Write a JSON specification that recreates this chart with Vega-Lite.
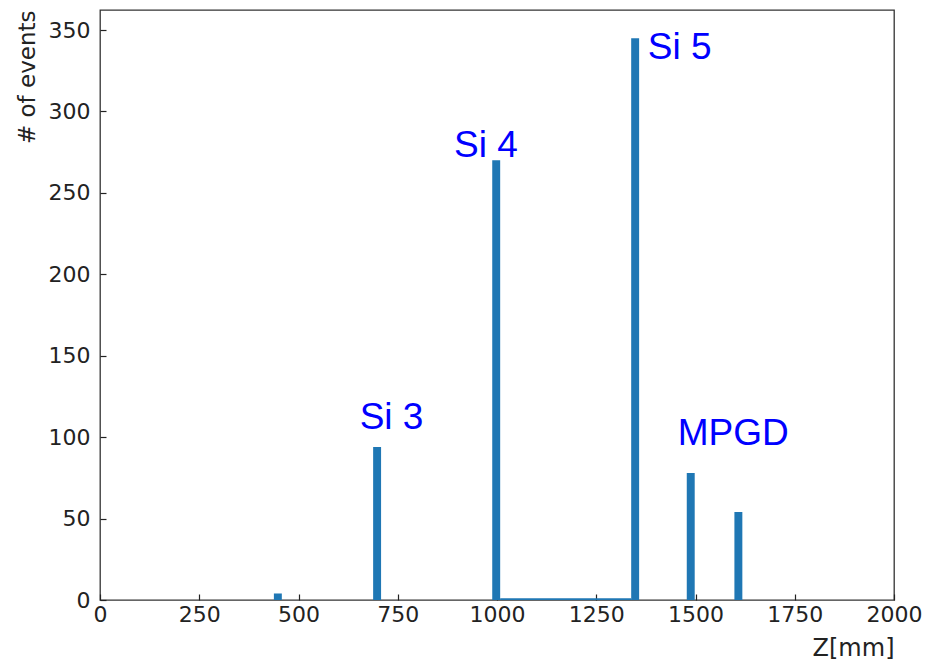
{
  "$schema": "https://vega.github.io/schema/vega-lite/v6.json",
  "width": 794,
  "height": 590,
  "autosize": {"type": "none"},
  "padding": {"left": 100, "top": 10, "right": 32, "bottom": 62},
  "background": "white",
  "datasets": {
    "bins": [
      {"z0": 438, "z1": 458, "events": 4},
      {"z0": 688, "z1": 708, "events": 94},
      {"z0": 988, "z1": 1008, "events": 270},
      {"z0": 1008, "z1": 1338, "events": 1},
      {"z0": 1338, "z1": 1358, "events": 345},
      {"z0": 1478, "z1": 1498, "events": 78},
      {"z0": 1598, "z1": 1618, "events": 54}
    ],
    "labels": [
      {"label": "Si 3", "z": 654, "events": 105},
      {"label": "Si 4", "z": 892, "events": 272},
      {"label": "Si 5", "z": 1380, "events": 332},
      {"label": "MPGD", "z": 1455, "events": 95}
    ]
  },
  "config": {
    "view": {"stroke": "#333333", "strokeWidth": 1.3},
    "axis": {
      "grid": false,
      "domain": false,
      "tickColor": "#222222",
      "tickSize": -6,
      "tickWidth": 1.2,
      "labelFont": "DejaVu Sans",
      "labelFontSize": 22,
      "labelColor": "#222222",
      "titleFont": "DejaVu Sans",
      "titleFontSize": 23,
      "titleFontWeight": "normal",
      "titleColor": "#222222"
    }
  },
  "layer": [
    {
      "data": {"name": "bins"},
      "mark": {"type": "rect", "color": "#1f77b4"},
      "encoding": {
        "x": {
          "field": "z0",
          "type": "quantitative",
          "scale": {"domain": [0, 2000], "nice": false},
          "axis": {
            "values": [0, 250, 500, 750, 1000, 1250, 1500, 1750, 2000],
            "format": "d",
            "title": "Z[mm]",
            "titleAnchor": "end",
            "titleAlign": "right",
            "titleFontSize": 24,
            "labelPadding": 10,
            "titlePadding": 11,
            "labelFlush": false,
            "labelOverlap": false
          }
        },
        "x2": {"field": "z1"},
        "y": {
          "field": "events",
          "type": "quantitative",
          "scale": {"domain": [0, 362.3], "nice": false},
          "axis": {
            "values": [0, 50, 100, 150, 200, 250, 300, 350],
            "title": "# of events",
            "titleAnchor": "end",
            "titleAlign": "right",
            "labelPadding": 16,
            "titlePadding": 9,
            "labelFlush": false,
            "labelOverlap": false
          }
        },
        "y2": {"datum": 0}
      }
    },
    {
      "data": {"name": "labels"},
      "mark": {
        "type": "text",
        "font": "Liberation Sans",
        "fontSize": 37,
        "color": "#0000ff",
        "align": "left",
        "baseline": "alphabetic"
      },
      "encoding": {
        "x": {"field": "z", "type": "quantitative"},
        "y": {"field": "events", "type": "quantitative"},
        "text": {"field": "label"}
      }
    }
  ]
}
